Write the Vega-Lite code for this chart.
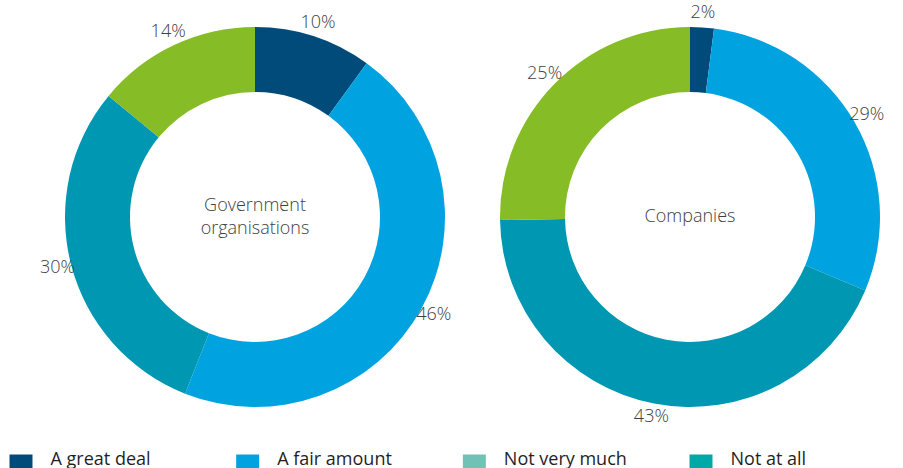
{
  "$schema": "https://vega.github.io/schema/vega-lite/v6.json",
  "padding": {"left": 9, "top": 0, "right": 0, "bottom": 0},
  "spacing": 16,
  "background": "white",
  "config": {"view": {"stroke": null}, "font": "Open Sans"},
  "resolve": {"scale": {"color": "independent", "x": "independent"}},
  "datasets": {
    "donuts": [
      {"group": "Government organisations", "category": "A great deal", "value": 10, "idx": 1},
      {"group": "Government organisations", "category": "A fair amount", "value": 46, "idx": 2},
      {"group": "Government organisations", "category": "Not very much", "value": 30, "idx": 3},
      {"group": "Government organisations", "category": "Not at all", "value": 14, "idx": 4},
      {"group": "Companies", "category": "A great deal", "value": 2, "idx": 1},
      {"group": "Companies", "category": "A fair amount", "value": 29, "idx": 2},
      {"group": "Companies", "category": "Not very much", "value": 43, "idx": 3},
      {"group": "Companies", "category": "Not at all", "value": 25, "idx": 4}
    ],
    "centers": [
      {"group": "Government organisations", "title": "Government\norganisations"},
      {"group": "Companies", "title": "Companies"}
    ],
    "legend": [
      {"category": "A great deal"},
      {"category": "A fair amount"},
      {"category": "Not very much"},
      {"category": "Not at all"}
    ]
  },
  "vconcat": [
    {
      "hconcat": [
        {
          "width": 468,
          "height": 434,
          "layer": [
            {
              "data": {"name": "donuts"},
              "transform": [{"filter": "datum.group === 'Government organisations'"}],
              "mark": {"type": "arc", "radius": 190, "radius2": 125},
              "encoding": {
                "theta": {"field": "value", "type": "quantitative", "stack": true},
                "order": {"field": "idx", "type": "quantitative"},
                "color": {"field": "category", "type": "nominal", "legend": null,
                  "scale": {"domain": ["A great deal", "A fair amount", "Not very much", "Not at all"],
                            "range": ["#014B7B", "#00A3E0", "#0097B2", "#86BC25"]}}
              }
            },
            {
              "data": {"name": "donuts"},
              "transform": [{"filter": "datum.group === 'Government organisations'"}, {"calculate": "datum.value + '%'", "as": "label"}],
              "mark": {"type": "text", "radius": 204, "fontSize": 18, "fontWeight": 300, "color": "#404040", "baseline": "middle", "align": "center"},
              "encoding": {
                "theta": {"field": "value", "type": "quantitative", "stack": true},
                "order": {"field": "idx", "type": "quantitative"},
                "text": {"field": "label", "type": "nominal"}
              }
            },
            {
              "data": {"name": "centers"},
              "transform": [{"filter": "datum.group === 'Government organisations'"}],
              "mark": {"type": "text", "fontSize": 18, "fontWeight": 300, "color": "#404040", "baseline": "middle", "align": "center", "lineBreak": "\n", "lineHeight": 23, "dy": -11},
              "encoding": {"text": {"field": "title", "type": "nominal"}}
            }
          ]
        },
        {
          "width": 402,
          "height": 434,
          "layer": [
            {
              "data": {"name": "donuts"},
              "transform": [{"filter": "datum.group === 'Companies'"}],
              "mark": {"type": "arc", "radius": 190, "radius2": 125},
              "encoding": {
                "theta": {"field": "value", "type": "quantitative", "stack": true},
                "order": {"field": "idx", "type": "quantitative"},
                "color": {"field": "category", "type": "nominal", "legend": null,
                  "scale": {"domain": ["A great deal", "A fair amount", "Not very much", "Not at all"],
                            "range": ["#014B7B", "#00A3E0", "#0097B2", "#86BC25"]}}
              }
            },
            {
              "data": {"name": "donuts"},
              "transform": [{"filter": "datum.group === 'Companies'"}, {"calculate": "datum.value + '%'", "as": "label"}],
              "mark": {"type": "text", "radius": 204, "fontSize": 18, "fontWeight": 300, "color": "#404040", "baseline": "middle", "align": "center"},
              "encoding": {
                "theta": {"field": "value", "type": "quantitative", "stack": true},
                "order": {"field": "idx", "type": "quantitative"},
                "text": {"field": "label", "type": "nominal"}
              }
            },
            {
              "data": {"name": "centers"},
              "transform": [{"filter": "datum.group === 'Companies'"}],
              "mark": {"type": "text", "fontSize": 18, "fontWeight": 300, "color": "#404040", "baseline": "middle", "align": "center", "lineBreak": "\n", "lineHeight": 23},
              "encoding": {"text": {"field": "title", "type": "nominal"}}
            }
          ]
        }
      ],
      "spacing": 0,
      "resolve": {"scale": {"theta": "independent"}}
    },
    {
      "width": 680,
      "height": 30,
      "data": {"name": "legend"},
      "encoding": {
        "x": {"field": "category", "type": "nominal", "axis": null,
          "scale": {"type": "point", "padding": 0, "domain": ["A great deal", "A fair amount", "Not very much", "Not at all"]}}
      },
      "layer": [
        {
          "mark": {"type": "square", "size": 529, "opacity": 1},
          "encoding": {
            "color": {"field": "category", "type": "nominal", "legend": null,
              "scale": {"domain": ["A great deal", "A fair amount", "Not very much", "Not at all"],
                        "range": ["#014B7B", "#00A3E0", "#6FC2B4", "#00A9A7"]}}
          }
        },
        {
          "mark": {"type": "text", "align": "left", "baseline": "alphabetic", "dx": 29.5, "dy": -1.5, "fontSize": 18, "fontWeight": 400, "color": "#1f1f1f"},
          "encoding": {"text": {"field": "category", "type": "nominal"}}
        }
      ]
    }
  ]
}
